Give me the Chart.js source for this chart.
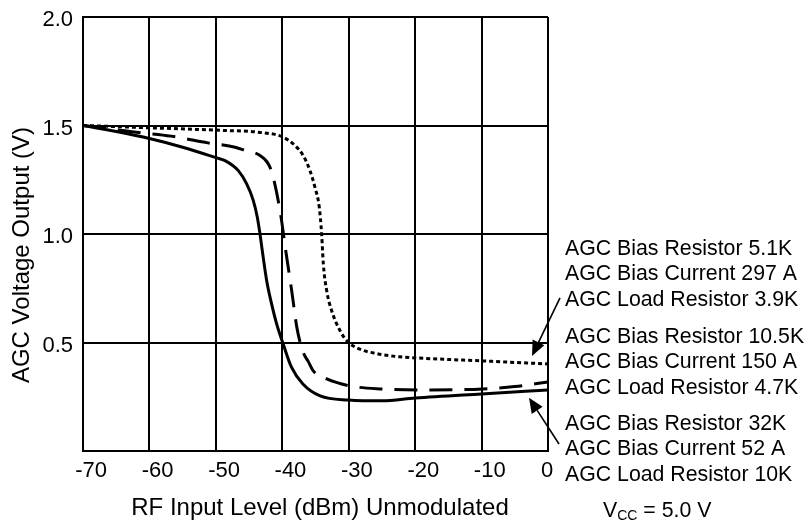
<!DOCTYPE html>
<html><head><meta charset="utf-8">
<script src="https://cdn.jsdelivr.net/npm/chart.js@4/dist/chart.umd.min.js"></script>
<style>html,body{margin:0;padding:0;background:#fff}#wrap{width:807px;height:523px}</style>
</head><body><div id="wrap"><canvas id="c" width="807" height="523"></canvas></div>
<script>
// ---- data ----
const xTicks = [-70, -60, -50, -40, -30, -20, -10, 0];
const yTicks = [0.5, 1.0, 1.5, 2.0];
// AGC Bias Resistor 32K (solid)
const curve32K = [[-70,1.5],[-65,1.472],[-60,1.44],[-55,1.40],[-50,1.352],[-48.62,1.338],[-46.62,1.292],[-45.36,1.231],[-44.36,1.154],[-43.76,1.077],[-43.36,1.001],[-43.01,0.923],[-42.35,0.785],[-41.6,0.677],[-40.84,0.585],[-39.85,0.492],[-38.6,0.385],[-36.9,0.309],[-34.3,0.254],[-30,0.235],[-25,0.231],[-20,0.244],[-10,0.263],[0,0.281]];
// AGC Bias Resistor 10.5K (dashed)
const curve10K5 = [[-70,1.5],[-66,1.485],[-62.3,1.47],[-56.75,1.451],[-51.2,1.42],[-47.1,1.40],[-45.36,1.383],[-43.6,1.366],[-42.1,1.323],[-41.47,1.274],[-40.3,1.10],[-39.44,0.915],[-38.58,0.738],[-37.78,0.565],[-36.84,0.454],[-36.08,0.412],[-35.33,0.369],[-33.3,0.332],[-29.8,0.30],[-25.3,0.286],[-17.8,0.281],[-9.8,0.286],[-5,0.297],[0,0.318]];
// AGC Bias Resistor 5.1K (dotted)
const curve5K1 = [[-70,1.5],[-60.4,1.49],[-53,1.482],[-48.6,1.477],[-43.6,1.469],[-39.85,1.446],[-38.1,1.408],[-36.84,1.361],[-35.83,1.292],[-35.08,1.215],[-34.43,1.123],[-34.07,0.997],[-33.82,0.862],[-33.31,0.738],[-32.56,0.646],[-31.3,0.554],[-30.26,0.507],[-28.75,0.475],[-25.7,0.448],[-22.3,0.434],[-17.3,0.425],[-9.8,0.415],[0,0.401]];
const text5K1 = ["AGC Bias Resistor 5.1K", "AGC Bias Current 297 A", "AGC Load Resistor 3.9K"];
const text10K5 = ["AGC Bias Resistor 10.5K", "AGC Bias Current 150 A", "AGC Load Resistor 4.7K"];
const text32K = ["AGC Bias Resistor 32K", "AGC Bias Current 52 A", "AGC Load Resistor 10K"];
const xTitle = "RF Input Level (dBm) Unmodulated";
const yTitle = "AGC Voltage Output (V)";
// arrows: [tail, head] in data units
const arrow5K1 = [[1.81, 0.706], [-2.41, 0.438]];
const arrow32K = [[1.66, 0.032], [-2.86, 0.245]];

const FONT = "'Liberation Sans', Arial, Helvetica, sans-serif";
const toPts = a => a.map(p => ({x: p[0], y: p[1]}));

function arrow(ctx, x1, y1, x2, y2) {
  const ang = Math.atan2(y2 - y1, x2 - x1);
  const L = 15, W = 6.5;
  const bx = x2 - L * Math.cos(ang), by = y2 - L * Math.sin(ang);
  ctx.beginPath();
  ctx.moveTo(x1, y1); ctx.lineTo(bx, by);
  ctx.lineWidth = 1.6; ctx.strokeStyle = '#000'; ctx.stroke();
  ctx.beginPath();
  ctx.moveTo(x2, y2);
  ctx.lineTo(bx + W * Math.sin(ang), by - W * Math.cos(ang));
  ctx.lineTo(bx - W * Math.sin(ang), by + W * Math.cos(ang));
  ctx.closePath(); ctx.fillStyle = '#000'; ctx.fill();
}

const annot = {
  id: 'annot',
  afterDraw(chart) {
    const ctx = chart.ctx, ca = chart.chartArea, xs = chart.scales.x, ys = chart.scales.y;
    ctx.save();
    ctx.fillStyle = '#000';
    ctx.textBaseline = 'middle';
    // axis titles
    ctx.font = '24px ' + FONT;
    ctx.textAlign = 'center';
    ctx.fillText(xTitle, 320, 508);
    ctx.save();
    ctx.translate(22, 255); ctx.rotate(-Math.PI / 2);
    ctx.fillText(yTitle, 0, 0);
    ctx.restore();
    // right-hand notes
    ctx.font = '21.3px ' + FONT;
    ctx.textAlign = 'left';
    const tx = ca.right + 17;
    const groups = [[text5K1, 249], [text10K5, 337], [text32K, 424]];
    groups.forEach(([lines, y0]) => lines.forEach((s, i) => ctx.fillText(s, tx, y0 + i * 25.5)));
    // Vcc
    let vx = 603; const vy = 511;
    ctx.fillText('V', vx, vy); vx += ctx.measureText('V').width;
    ctx.font = '14px ' + FONT;
    ctx.fillText('CC', vx, vy + 5); vx += ctx.measureText('CC').width;
    ctx.font = '21.3px ' + FONT;
    ctx.fillText(' = 5.0 V', vx, vy);
    // arrows
    [arrow5K1, arrow32K].forEach(([t, h]) => arrow(ctx,
      xs.getPixelForValue(t[0]), ys.getPixelForValue(t[1]),
      xs.getPixelForValue(h[0]), ys.getPixelForValue(h[1])));
    ctx.restore();
  }
};

const lineBase = {borderColor: '#000', borderWidth: 3, pointRadius: 0, fill: false, cubicInterpolationMode: 'monotone', borderCapStyle: 'butt'};

new Chart(document.getElementById('c'), {
  type: 'line',
  data: {
    datasets: [
      Object.assign({label: '32K', data: toPts(curve32K)}, lineBase),
      Object.assign({label: '10.5K', data: toPts(curve10K5), borderDash: [23, 12]}, lineBase),
      Object.assign({label: '5.1K', data: toPts(curve5K1), borderDash: [4, 3]}, lineBase)
    ]
  },
  options: {
    responsive: false,
    animation: false,
    devicePixelRatio: 1,
    layout: {padding: {left: 0, right: 259, top: 17, bottom: 0}},
    plugins: {legend: {display: false}, tooltip: {enabled: false}},
    scales: {
      x: {
        type: 'linear', min: xTicks[0], max: xTicks[xTicks.length - 1],
        afterBuildTicks: s => { s.ticks = xTicks.map(v => ({value: v})); },
        afterFit: s => { s.height = 72; },
        grid: {color: '#000', lineWidth: 2, drawTicks: false},
        border: {display: true, color: '#000', width: 2},
        ticks: {color: '#000', font: {family: FONT, size: 22}, padding: 7, maxRotation: 0, labelOffset: -1,
                callback: v => (v < 0 ? '   ' : '') + String(v)}
      },
      y: {
        type: 'linear', min: 0, max: 2,
        afterBuildTicks: s => { s.ticks = [0].concat(yTicks).map(v => ({value: v})); },
        afterFit: s => { s.width = 83; s.paddingTop = 0; s.paddingBottom = 0; },
        grid: {color: '#000', lineWidth: 2, drawTicks: false},
        border: {display: true, color: '#000', width: 2},
        ticks: {color: '#000', font: {family: FONT, size: 22}, padding: 10, labelOffset: 3,
                callback: v => v === 0 ? '' : v.toFixed(1)}
      }
    }
  },
  plugins: [annot]
});
</script></body></html>
